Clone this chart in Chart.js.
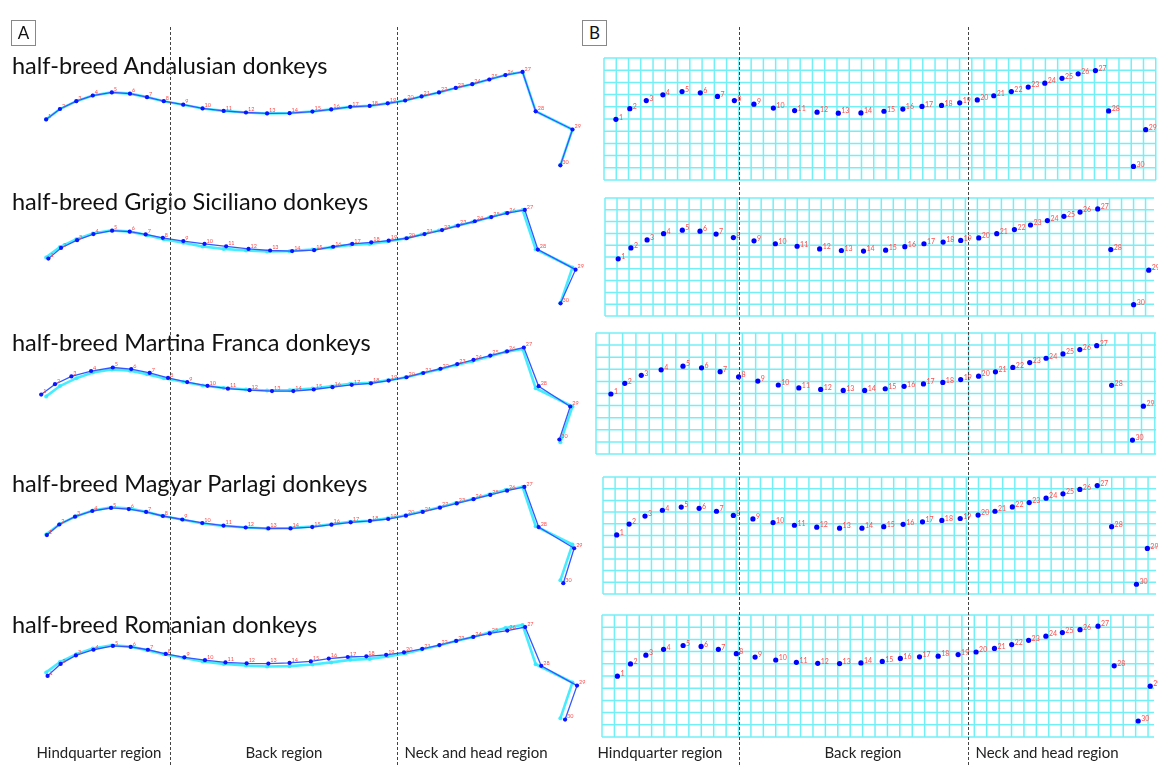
<!DOCTYPE html>
<html>
<head>
<meta charset="utf-8">
<script src="https://cdn.jsdelivr.net/npm/chart.js@4"></script>
<style>
  body { margin: 0; background: #fff; }
  #page { position: relative; width: 1158px; height: 765px; overflow: hidden; font-family: Lato, "Open Sans", sans-serif; }
  canvas { position: absolute; }
  .title { position: absolute; left: 12px; font-size: 23.5px; color: #111; white-space: nowrap; line-height: 1; }
  .region { position: absolute; top: 743px; font-size: 15px; color: #222; white-space: nowrap; transform: translateX(-50%); }
  .dash { position: absolute; top: 27px; bottom: 0; width: 0; border-left: 1px dashed #444; }
  .panel { position: absolute; top: 20px; width: 23px; height: 24px; border: 1px solid #888; font-size: 17px; text-align: center; line-height: 24px; color: #111; }
</style>
</head>
<body>
<div id="page"></div>
<script>
// breed names and region labels
const breeds = ["Andalusian", "Grigio Siciliano", "Martina Franca", "Magyar Parlagi", "Romanian"];
const regions = ["Hindquarter region", "Back region", "Neck and head region"];

// landmark coordinates (30 landmarks, x along the back, y height)
const consensus = [
  [42.7, 60.7], [56.7, 71.7], [73.3, 80], [90, 86], [109.3, 89.3], [127.7, 88], [145, 84.3], [162, 80],
  [181.7, 76.3], [201.3, 72.3], [222.7, 69.7], [245.3, 68], [266.7, 67], [289.5, 67.3], [312.7, 69],
  [331.7, 71.3], [351, 74], [370.7, 75], [389, 77.7], [406.7, 80.7], [423.3, 85], [441, 89.3], [458, 94],
  [474.7, 98], [492, 103], [508.3, 107.7], [525.7, 111], [539, 69.3], [576.3, 50], [564, 12]
];
const andalusian = [
  [42.7, 60.7], [56.7, 71.7], [73.3, 80], [90, 86], [109.3, 89.3], [127.7, 88], [145, 84.3], [162, 80],
  [181.7, 76.3], [201.3, 72.3], [222.7, 69.7], [245.3, 68], [266.7, 67], [289.5, 67.3], [312.7, 69],
  [331.7, 71.3], [351, 74], [370.7, 75], [389, 77.7], [406.7, 80.7], [423.3, 85], [441, 89.3], [458, 94],
  [474.7, 98], [492, 103], [508.3, 107.7], [525.7, 111], [539, 69.3], [576.3, 50], [564, 12]
];
const grigioSiciliano = [
  [45, 59.4], [57.8, 70.7], [74.1, 79], [90.7, 85.4], [109.6, 89], [127.4, 88], [143.6, 85], [161, 81.4],
  [181.8, 78], [203.3, 75], [225.2, 72.4], [247.9, 69.7], [269.8, 68], [292.1, 67.4], [314.4, 68.4],
  [333.7, 72], [353, 75], [372.3, 76.7], [390, 78.4], [408.2, 81], [426.3, 85.4], [444.1, 89.7], [460.3, 94.4],
  [477.3, 99], [494, 103.4], [510.2, 107.7], [528, 111], [541.2, 69], [579.4, 47.7], [564.2, 12]
];
const martinaFranca = [
  [37.7, 62.6], [51.7, 73.6], [68.3, 81.9], [88.3, 87.6], [110.3, 91.3], [129, 89.6], [147.7, 85.6], [166.3, 80.3],
  [185.7, 75.9], [206.3, 71.9], [227, 68.9], [249, 67.3], [271.7, 66.3], [293.3, 66.3], [314, 68],
  [333, 70.5], [352.5, 73], [372, 74.5], [390, 77.5], [408, 81], [425, 85.5], [442.5, 90], [459.5, 95],
  [476, 99.5], [493, 104], [510, 108.5], [527, 112.5], [542, 71.5], [574, 50], [563, 15]
];
const magyarParlagi = [
  [43.5, 60], [56, 71.2], [72, 79.5], [89.5, 85.5], [108.5, 88.8], [126.5, 87.5], [144, 84.5], [161, 80.2],
  [180.7, 76.5], [201, 72.8], [222.5, 70], [245, 68], [268, 67], [290.5, 67], [312.5, 68.5],
  [332, 71], [351.5, 73.5], [371, 75], [389.5, 77], [407.5, 80.5], [424.5, 84.5], [442, 89], [459, 93.5],
  [476, 98], [493, 102.5], [510, 107], [527.5, 111], [542, 68.5], [578, 46], [567, 9]
];
const romanian = [
  [44.2, 57], [57.4, 69.7], [72.9, 78.7], [90.7, 84.7], [110.4, 88.7], [128.5, 87.7], [145.9, 84.7], [164, 80.3],
  [182.9, 76.7], [203.7, 73.7], [224.5, 71.3], [246, 70.3], [268, 70], [289.5, 70.7], [311, 72.3],
  [329.2, 75.3], [348.5, 77], [367.3, 77.7], [387.4, 79.3], [405.5, 82], [424, 85.7], [441.4, 89.7], [458.4, 94],
  [475.8, 98.3], [492.4, 102], [510.2, 105], [528.3, 108.7], [544.6, 67.7], [580.9, 46.7], [568.8, 10.7]
];
const shapes = [andalusian, grigioSiciliano, martinaFranca, magyarParlagi, romanian];

// layout
const page = document.getElementById("page");
const rowBase = [180, 318.3, 456.6, 594.9, 733.2];
const titleTop = [54, 190, 331, 472, 613];
const gridBoxes = [
  { left: 602, top: 56, right: 1158, bottom: 182, cell: 12.35 },
  { left: 603, top: 196, right: 1156, bottom: 318, cell: 12.1 },
  { left: 594, top: 331, right: 1158, bottom: 456, cell: 13.4 },
  { left: 601, top: 475, right: 1158, bottom: 596, cell: 12.2 },
  { left: 600, top: 613, right: 1156, bottom: 739, cell: 12.5 },
];
const bShift = 571.3;

const toPoints = (arr) => arr.map(([x, y]) => ({ x, y }));

const numberLabels = {
  id: "numberLabels",
  afterDatasetsDraw(chart, args, opts) {
    const meta = chart.getDatasetMeta(opts.index);
    const ctx = chart.ctx;
    ctx.save();
    ctx.fillStyle = "#ff4d4d";
    ctx.font = opts.size + "px Lato, sans-serif";
    ctx.textBaseline = "middle";
    meta.data.forEach((pt, i) => {
      ctx.fillText(String(i + 1), pt.x + opts.dx, pt.y + opts.dy);
    });
    ctx.restore();
  },
};

// square grid drawn through the chart scales
const squareGrid = {
  id: "squareGrid",
  beforeDatasetsDraw(chart, args, opts) {
    const { x, y } = chart.scales;
    const ctx = chart.ctx;
    ctx.save();
    ctx.strokeStyle = "rgba(0, 228, 238, 0.55)";
    ctx.lineWidth = 1.5;
    ctx.beginPath();
    for (let v = x.min; v <= x.max + 0.01; v += opts.cell) {
      const px = x.getPixelForValue(v);
      ctx.moveTo(px, y.getPixelForValue(y.min));
      ctx.lineTo(px, y.getPixelForValue(y.max));
    }
    const step = (y.max - y.min) / opts.rows;
    for (let i = 0; i <= opts.rows; i++) {
      const py = y.getPixelForValue(y.min + i * step);
      ctx.moveTo(x.getPixelForValue(x.min), py);
      ctx.lineTo(x.getPixelForValue(x.max), py);
    }
    ctx.stroke();
    ctx.restore();
  },
};

function addCanvas(left, top, w, h) {
  const c = document.createElement("canvas");
  c.width = w;
  c.height = h;
  c.style.left = left + "px";
  c.style.top = top + "px";
  page.appendChild(c);
  return c;
}

// panel A: landmark configurations
shapes.forEach((shape, k) => {
  const canvas = addCanvas(0, rowBase[k] - 130, 590, 142);
  new Chart(canvas, {
    type: "scatter",
    data: {
      datasets: [
        {
          data: toPoints(shape),
          showLine: true,
          borderColor: "#3358ff",
          borderWidth: 1.3,
          pointRadius: 2.1,
          pointBackgroundColor: "#0a14ff",
          pointBorderWidth: 0,
          order: 0,
        },
        {
          data: toPoints(consensus),
          showLine: true,
          borderColor: "rgba(50, 235, 255, 0.9)",
          borderWidth: 2.6,
          pointRadius: 2,
          pointBackgroundColor: "rgba(50, 235, 255, 0.9)",
          pointBorderWidth: 0,
          order: 1,
        },
      ],
    },
    options: {
      responsive: false,
      animation: false,
      layout: { padding: 0 },
      scales: {
        x: { type: "linear", min: 0, max: 590, display: false },
        y: { type: "linear", min: -12, max: 130, display: false },
      },
      plugins: {
        legend: { display: false },
        tooltip: { enabled: false },
        numberLabels: { index: 0, size: 5.5, dx: 2, dy: -3 },
      },
    },
    plugins: [numberLabels],
  });

  const t = document.createElement("div");
  t.className = "title";
  t.style.top = titleTop[k] + "px";
  t.textContent = "half-breed " + breeds[k] + " donkeys";
  page.appendChild(t);
});

// panel B: deformation grids
shapes.forEach((shape, k) => {
  const box = gridBoxes[k];
  const pad = 2;
  const w = box.right - box.left;
  const h = box.bottom - box.top;
  const canvas = addCanvas(box.left - pad, box.top - pad, w + 2 * pad, h + 2 * pad);
  new Chart(canvas, {
    type: "scatter",
    data: {
      datasets: [
        {
          data: toPoints(shape),
          pointRadius: 2.6,
          pointBackgroundColor: "#0000ff",
          pointBorderWidth: 0,
          clip: false,
        },
      ],
    },
    options: {
      responsive: false,
      animation: false,
      layout: { padding: pad },
      scales: {
        x: { type: "linear", min: box.left - bShift, max: box.right - bShift, display: false },
        y: { type: "linear", min: rowBase[k] - box.bottom, max: rowBase[k] - box.top, display: false },
      },
      plugins: {
        legend: { display: false },
        tooltip: { enabled: false },
        squareGrid: { cell: box.cell, rows: 10 },
        numberLabels: { index: 0, size: 7, dx: 3, dy: -2 },
      },
    },
    plugins: [squareGrid, numberLabels],
  });
});

// region dividers and labels
[170, 397, 739, 968].forEach((x) => {
  const d = document.createElement("div");
  d.className = "dash";
  d.style.left = x + "px";
  page.appendChild(d);
});
[[99, 284, 476], [660, 863, 1047]].forEach((centers) => {
  centers.forEach((cx, i) => {
    const r = document.createElement("div");
    r.className = "region";
    r.style.left = cx + "px";
    r.textContent = regions[i];
    page.appendChild(r);
  });
});
[["A", 11], ["B", 582]].forEach(([label, x]) => {
  const p = document.createElement("div");
  p.className = "panel";
  p.style.left = x + "px";
  p.textContent = label;
  page.appendChild(p);
});
</script>
</body>
</html>
